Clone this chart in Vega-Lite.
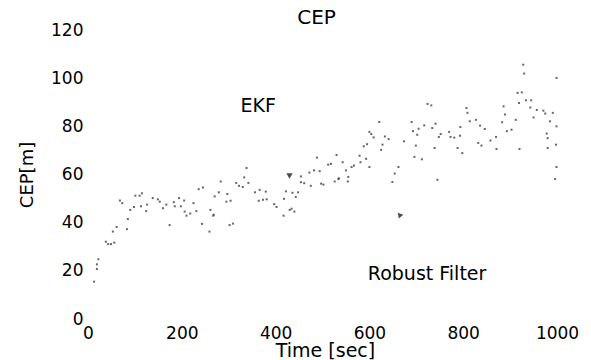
{
  "$schema": "https://vega.github.io/schema/vega-lite/v6.json",
  "width": 469,
  "height": 289,
  "autosize": {"type": "none"},
  "padding": {"left": 88, "top": 30, "right": 34, "bottom": 41},
  "background": "white",
  "title": {"text": "CEP", "font": "DejaVu Sans", "fontSize": 20, "fontWeight": "normal", "color": "black", "anchor": "middle", "dx": -6, "dy": 11, "offset": 4},
  "config": {
    "view": {"stroke": null},
    "axis": {"domain": false, "ticks": false, "grid": false, "labelFont": "DejaVu Sans", "labelFontSize": 17, "labelColor": "black", "titleFont": "DejaVu Sans", "titleFontWeight": "normal", "titleColor": "black", "labelFlush": false, "labelOverlap": false}
  },
  "datasets": {
    "pts": [
      {"t":13,"cep":15.5},{"t":19,"cep":20.8},{"t":19,"cep":22.7},{"t":22,"cep":24.8},{"t":38,"cep":32.1},{"t":43,"cep":31.1},{"t":49,"cep":31.1},{"t":56,"cep":31.7},{"t":53,"cep":36.3},{"t":61,"cep":38.2},{"t":83,"cep":37.3},{"t":85,"cep":41.5},{"t":68,"cep":49.2},{"t":73,"cep":48.1},{"t":90,"cep":45.3},{"t":98,"cep":46.5},{"t":101,"cep":51.2},{"t":110,"cep":51.2},{"t":115,"cep":52.2},{"t":113,"cep":46.8},{"t":124,"cep":44.8},{"t":126,"cep":47.5},{"t":138,"cep":50.2},{"t":149,"cep":49.7},{"t":153,"cep":48.7},{"t":160,"cep":46},{"t":167,"cep":47.5},{"t":174,"cep":39},{"t":183,"cep":48.5},{"t":185,"cep":46.8},{"t":194,"cep":50.2},{"t":198,"cep":46.8},{"t":205,"cep":49.2},{"t":206,"cep":44.6},{"t":210,"cep":42.9},{"t":218,"cep":43.8},{"t":225,"cep":48.1},{"t":231,"cep":44.8},{"t":236,"cep":53.9},{"t":245,"cep":54.6},{"t":243,"cep":39.5},{"t":259,"cep":36.3},{"t":261,"cep":45.3},{"t":270,"cep":50.9},{"t":268,"cep":43.3},
      {"t":267,"cep":42.9},{"t":279,"cep":52.6},{"t":283,"cep":57.1},{"t":297,"cep":51.9},{"t":295,"cep":48.7},{"t":304,"cep":49.1},{"t":302,"cep":39},{"t":309,"cep":39.6},{"t":316,"cep":56.5},{"t":322,"cep":55.3},{"t":330,"cep":54.8},{"t":333,"cep":58.8},{"t":338,"cep":62.7},{"t":342,"cep":56.5},{"t":356,"cep":52.6},{"t":366,"cep":53.6},{"t":364,"cep":49.1},{"t":373,"cep":49.5},{"t":379,"cep":52.9},{"t":381,"cep":49.7},{"t":397,"cep":47.7},{"t":402,"cep":46.5},{"t":418,"cep":49.9},{"t":417,"cep":42.9},{"t":422,"cep":53},{"t":430,"cep":45.3},{"t":440,"cep":44.6},{"t":434,"cep":45.8},{"t":436,"cep":52.4},{"t":448,"cep":52.6},{"t":443,"cep":50.7},{"t":454,"cep":59.2},{"t":454,"cep":56.8},{"t":461,"cep":56.4},{"t":472,"cep":60.8},{"t":482,"cep":61.7},{"t":488,"cep":67},{"t":494,"cep":61.4},{"t":497,"cep":56.2},{"t":502,"cep":55.8},{"t":512,"cep":64.1},{"t":518,"cep":64.4},{"t":530,"cep":68.1},{"t":526,"cep":57.1},{"t":534,"cep":58.1},{"t":475,"cep":55.3},
      {"t":543,"cep":65.1},{"t":550,"cep":61.7},{"t":562,"cep":63.1},{"t":567,"cep":63.7},{"t":535,"cep":58.4},{"t":555,"cep":59},{"t":554,"cep":57.1},{"t":579,"cep":67.8},{"t":581,"cep":65.1},{"t":593,"cep":66.5},{"t":600,"cep":63.1},{"t":588,"cep":71.7},{"t":595,"cep":72.6},{"t":600,"cep":77.7},{"t":604,"cep":76.8},{"t":609,"cep":75.4},{"t":621,"cep":81.8},{"t":625,"cep":70.2},{"t":628,"cep":72.4},{"t":633,"cep":75.8},{"t":641,"cep":74.7},{"t":649,"cep":56.9},{"t":654,"cep":60.4},{"t":662,"cep":63.1},{"t":674,"cep":73.8},{"t":690,"cep":81.8},{"t":693,"cep":78},{"t":699,"cep":72},{"t":696,"cep":67.3},{"t":702,"cep":76.5},{"t":705,"cep":79},{"t":712,"cep":66.3},{"t":717,"cep":80.4},{"t":724,"cep":89.3},{"t":732,"cep":88.7},{"t":734,"cep":79.3},{"t":741,"cep":81.1},{"t":739,"cep":71},{"t":745,"cep":57.8},{"t":748,"cep":75.6},{"t":752,"cep":76.8},{"t":770,"cep":77.7},{"t":773,"cep":75.6},
      {"t":781,"cep":75.3},{"t":793,"cep":76.1},{"t":788,"cep":71},{"t":798,"cep":68.9},{"t":794,"cep":79.7},{"t":807,"cep":87.6},{"t":809,"cep":85.6},{"t":814,"cep":82.1},{"t":827,"cep":82.7},{"t":836,"cep":80.3},{"t":832,"cep":73.1},{"t":839,"cep":72},{"t":846,"cep":78.9},{"t":858,"cep":74.1},{"t":870,"cep":75.6},{"t":871,"cep":70.6},{"t":883,"cep":81.7},{"t":886,"cep":88.3},{"t":889,"cep":84.9},{"t":893,"cep":78},{"t":903,"cep":78.6},{"t":912,"cep":82.7},{"t":919,"cep":89.7},{"t":920,"cep":70.6},{"t":916,"cep":93.9},{"t":925,"cep":94.1},{"t":928,"cep":105.6},{"t":930,"cep":101.9},{"t":934,"cep":90.8},{"t":945,"cep":90.8},{"t":943,"cep":87.8},{"t":950,"cep":83.7},{"t":957,"cep":86.8},{"t":971,"cep":86.5},{"t":975,"cep":85.3},{"t":991,"cep":85.6},{"t":985,"cep":82.1},{"t":999,"cep":80},{"t":999,"cep":100.1},{"t":978,"cep":77},{"t":980,"cep":75.1},{"t":980,"cep":71},{"t":998,"cep":72.4},{"t":999,"cep":63.1},{"t":996,"cep":58.1}
    ],
    "labels": [
      {"t": 363, "cep": 88.3, "label": "EKF"},
      {"t": 723, "cep": 18.5, "label": "Robust Filter"}
    ],
    "arrows": [
      {"t": 428, "cep": 59.9, "id": "a"},
      {"t": 664, "cep": 43.3, "id": "b"}
    ]
  },
  "layer": [
    {
      "data": {"name": "pts"},
      "mark": {"type": "square", "size": 4, "color": "#333", "opacity": 0.75},
      "encoding": {
        "x": {"field": "t", "type": "quantitative", "scale": {"domain": [0, 1000], "nice": false}, "axis": {"values": [0, 200, 400, 600, 800, 1000], "format": "d", "title": "Time [sec]", "titleFontSize": 19, "labelPadding": 6, "titlePadding": 0, "titleX": 237}},
        "y": {"field": "cep", "type": "quantitative", "scale": {"domain": [0, 120], "nice": false}, "axis": {"values": [0, 20, 40, 60, 80, 100, 120], "format": "d", "title": "CEP[m]", "titleFontSize": 18, "labelPadding": 5, "titlePadding": 14}}
      }
    },
    {
      "data": {"name": "labels"},
      "mark": {"type": "text", "font": "DejaVu Sans", "fontSize": 19, "color": "black", "align": "center", "baseline": "middle"},
      "encoding": {
        "x": {"field": "t", "type": "quantitative"},
        "y": {"field": "cep", "type": "quantitative"},
        "text": {"field": "label"}
      }
    },
    {
      "data": {"name": "arrows"},
      "transform": [{"filter": "datum.id == 'a'"}],
      "mark": {"type": "point", "shape": "triangle-left", "filled": true, "size": 40, "color": "black", "angle": 30},
      "encoding": {
        "x": {"field": "t", "type": "quantitative"},
        "y": {"field": "cep", "type": "quantitative"}
      }
    },
    {
      "data": {"name": "arrows"},
      "transform": [{"filter": "datum.id == 'b'"}],
      "mark": {"type": "point", "shape": "triangle-up", "filled": true, "size": 35, "color": "black", "angle": -40},
      "encoding": {
        "x": {"field": "t", "type": "quantitative"},
        "y": {"field": "cep", "type": "quantitative"}
      }
    }
  ]
}
